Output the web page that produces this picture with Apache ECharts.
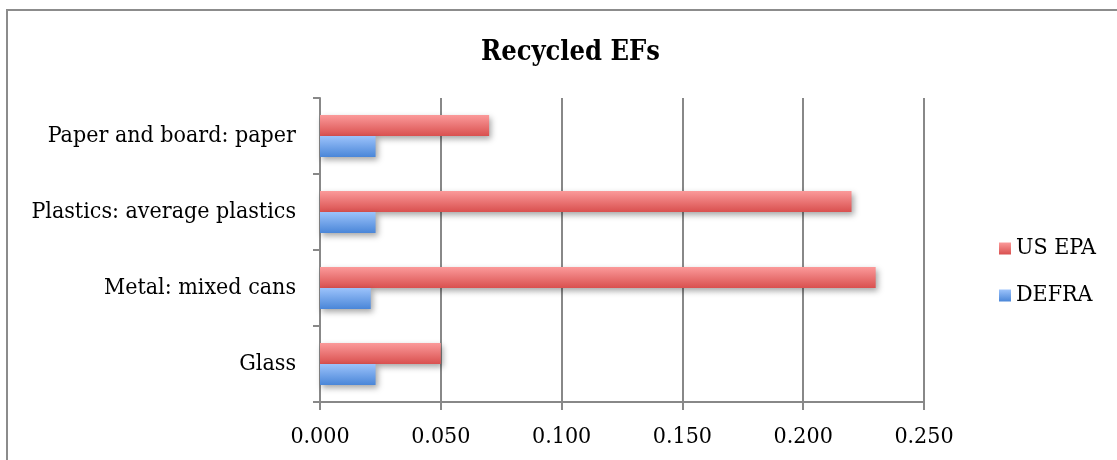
<!DOCTYPE html>
<html>
<head>
<meta charset="utf-8">
<script src="https://cdn.jsdelivr.net/npm/echarts@6/dist/echarts.min.js"></script>
<style>
html,body{margin:0;padding:0;background:#fff;}
#c{width:1117px;height:460px;}
</style>
</head>
<body>
<div id="c"></div>
<script>
const categories = ['Glass', 'Metal: mixed cans', 'Plastics: average plastics', 'Paper and board: paper'];
const usEpa = [0.050, 0.230, 0.220, 0.070];
const defra = [0.023, 0.021, 0.023, 0.023];
const xTicks = [0, 0.05, 0.1, 0.15, 0.2, 0.25];

const FONT = '"DejaVu Serif Condensed", "DejaVu Serif", serif';
const chart = echarts.init(document.getElementById('c'));
function grad(top, bottom) {
  return new echarts.graphic.LinearGradient(0, 0, 0, 1, [
    {offset: 0, color: top}, {offset: 1, color: bottom}
  ]);
}
chart.setOption({
  animation: false,
  backgroundColor: '#fff',
  textStyle: {fontFamily: FONT},
  title: {
    text: 'Recycled EFs', left: 476, top: 34,
    textStyle: {fontFamily: FONT, fontSize: 27, fontWeight: 'bold', color: '#000'}
  },
  graphic: [{
    type: 'polyline', silent: true,
    shape: {points: [[7, 460], [7, 10], [1117, 10]]},
    style: {stroke: '#8c8c8c', lineWidth: 2, fill: null}
  }],
  legend: {
    orient: 'vertical', left: 994, top: 232,
    data: ['US EPA', 'DEFRA'],
    itemWidth: 12, itemHeight: 12, itemGap: 24,
    textStyle: {fontFamily: FONT, fontSize: 23, color: '#000'},
    icon: 'rect'
  },
  grid: {left: 320, right: 193, top: 98, bottom: 58},
  xAxis: {
    type: 'value', min: 0, max: 0.25, interval: 0.05,
    axisLine: {show: true, lineStyle: {color: '#888', width: 2}},
    axisTick: {show: true, length: 8, lineStyle: {color: '#888', width: 2}},
    splitLine: {show: true, lineStyle: {color: '#888', width: 2}},
    axisLabel: {
      margin: 24, fontFamily: FONT, fontSize: 23, color: '#000',
      formatter: v => v.toFixed(3)
    }
  },
  yAxis: {
    type: 'category', data: categories,
    axisLine: {show: true, lineStyle: {color: '#888', width: 2}},
    axisTick: {show: true, length: 7, lineStyle: {color: '#888', width: 2}},
    axisLabel: {margin: 24, fontFamily: FONT, fontSize: 23, color: '#000'}
  },
  series: [
    {
      name: 'US EPA', type: 'bar', data: usEpa, barWidth: 21, barGap: '0%',
      itemStyle: {color: grad('#fb9a9a', '#d9504f'), shadowColor: 'rgba(0,0,0,0.35)', shadowBlur: 6, shadowOffsetX: 2, shadowOffsetY: 3}
    },
    {
      name: 'DEFRA', type: 'bar', data: defra, barWidth: 21, barGap: '0%',
      itemStyle: {color: grad('#9cc3fb', '#4a86d8'), shadowColor: 'rgba(0,0,0,0.35)', shadowBlur: 6, shadowOffsetX: 2, shadowOffsetY: 3}
    }
  ]
});
</script>
</body>
</html>
